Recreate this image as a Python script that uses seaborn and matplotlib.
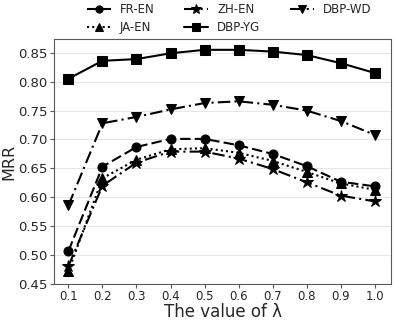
import pandas as pd
import matplotlib
matplotlib.use('Agg')
import matplotlib.pyplot as plt
import seaborn as sns

# valores de lambda
lam = [0.1, 0.2, 0.3, 0.4, 0.5, 0.6, 0.7, 0.8, 0.9, 1.0]

# MRR por dataset
fr_en = [0.507, 0.653, 0.687, 0.701, 0.701, 0.690, 0.675, 0.654, 0.627, 0.619]
ja_en = [0.472, 0.633, 0.665, 0.683, 0.685, 0.677, 0.663, 0.644, 0.624, 0.613]
zh_en = [0.481, 0.620, 0.660, 0.679, 0.679, 0.667, 0.649, 0.626, 0.603, 0.593]
dbp_yg = [0.805, 0.836, 0.839, 0.849, 0.855, 0.855, 0.852, 0.846, 0.832, 0.815]
dbp_wd = [0.586, 0.728, 0.739, 0.752, 0.763, 0.766, 0.760, 0.750, 0.732, 0.708]

# ordem coluna a coluna na legenda
series = [
    ('FR-EN', fr_en, 'o', (0, (5, 2))),
    ('JA-EN', ja_en, '^', (0, (1, 1.5))),
    ('ZH-EN', zh_en, '*', (0, (6, 2, 1, 2))),
    ('DBP-YG', dbp_yg, 's', '-'),
    ('DBP-WD', dbp_wd, 'v', (0, (6, 2, 1, 2))),
]

sns.set_style('whitegrid', {'axes.edgecolor': '0.35', 'grid.color': '0.9',
                            'xtick.bottom': True, 'ytick.left': True})
plt.rcParams['font.family'] = ['DejaVu Sans']

fig, ax = plt.subplots(figsize=(3.95, 3.21), dpi=100)
for name, vals, mk, ls in series:
    df = pd.DataFrame({'lam': lam, 'mrr': vals})
    sns.lineplot(data=df, x='lam', y='mrr', ax=ax, color='black', marker=mk,
                 linestyle=ls, markersize=9 if mk == '*' else 6.5,
                 markeredgecolor='black', linewidth=1.5, label=name)

ax.xaxis.grid(False)
ax.set_xlim(0.058, 1.048)
ax.set_ylim(0.45, 0.874)
ax.set_xticks(lam)
ax.set_xticklabels([f'{v:.1f}' for v in lam])
ax.set_yticks([0.45, 0.50, 0.55, 0.60, 0.65, 0.70, 0.75, 0.80, 0.85])
ax.tick_params(axis='x', labelsize=8.5, length=3, color='0.35', pad=1.5)
ax.tick_params(axis='y', labelsize=9.5, length=3, color='0.35', pad=2)
ax.set_xlabel('The value of λ', fontsize=12, labelpad=0)
ax.set_ylabel('MRR', fontsize=11.5, labelpad=1)

handles, labels = ax.get_legend_handles_labels()
ax.legend(handles, labels, ncol=3, loc='lower center', bbox_to_anchor=(0.52, 1.0),
          frameon=False, fontsize=8.5, handlelength=2, columnspacing=2.5,
          labelspacing=0.4, borderaxespad=0, handletextpad=0.8, markerscale=0.8)

plt.subplots_adjust(left=0.137, right=0.99, top=0.879, bottom=0.115)
plt.savefig('out.png', dpi=100)
